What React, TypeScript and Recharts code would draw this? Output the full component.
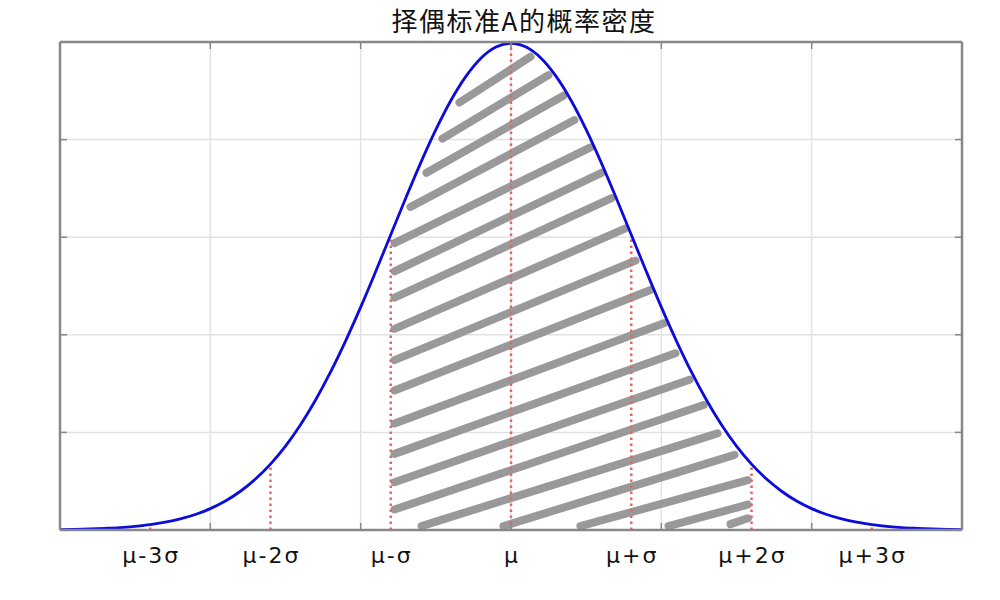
import React from 'react';
import { LineChart, Line, XAxis, YAxis, CartesianGrid } from 'recharts';

const TITLE = '择偶标准A的概率密度';

// density curve
const curveX = [
  -3.0, -2.9, -2.8, -2.7, -2.6, -2.5, -2.4, -2.3, -2.2, -2.1, -2.0, -1.9, -1.8, -1.7, -1.6, -1.5,
  -1.4, -1.3, -1.2, -1.1, -1.0, -0.9, -0.8, -0.7, -0.6, -0.5, -0.4, -0.3, -0.2, -0.1, 0.0,
  0.1, 0.2, 0.3, 0.4, 0.5, 0.6, 0.7, 0.8, 0.9, 1.0, 1.1, 1.2, 1.3, 1.4, 1.5,
  1.6, 1.7, 1.8, 1.9, 2.0, 2.1, 2.2, 2.3, 2.4, 2.5, 2.6, 2.7, 2.8, 2.9, 3.0,
];
const curveY = [
  0.0004, 0.0007, 0.0011, 0.0017, 0.0025, 0.0038, 0.0055, 0.008, 0.0114, 0.0159, 0.0219, 0.0297, 0.0397, 0.0522, 0.0675, 0.086,
  0.1079, 0.1332, 0.1619, 0.1938, 0.2283, 0.2649, 0.3025, 0.3401, 0.3764, 0.4102, 0.4401, 0.4648, 0.4834, 0.4948, 0.4987,
  0.4948, 0.4834, 0.4648, 0.4401, 0.4102, 0.3764, 0.3401, 0.3025, 0.2649, 0.2283, 0.1938, 0.1619, 0.1332, 0.1079, 0.086,
  0.0675, 0.0522, 0.0397, 0.0297, 0.0219, 0.0159, 0.0114, 0.008, 0.0055, 0.0038, 0.0025, 0.0017, 0.0011, 0.0007, 0.0004,
];

const gridXTicks = [-3, -2, -1, 0, 1, 2, 3];
const gridYTicks = [0, 0.1, 0.2, 0.3, 0.4, 0.5];

const sigmaTicks = [-2.4, -1.6, -0.8, 0, 0.8, 1.6, 2.4];
const sigmaLabels = ['μ-3σ', 'μ-2σ', 'μ-σ', 'μ', 'μ+σ', 'μ+2σ', 'μ+3σ'];
const guideTop = [0.0055, 0.0675, 0.3025, 0.4987, 0.3025, 0.0675, 0.0055];

// hatch strokes (start / end points in data units)
const hatchX1 = [-0.343, -0.456, -0.562, -0.669, -0.775, -0.775, -0.775, -0.775, -0.775, -0.775, -0.775, -0.775, -0.775, -0.775, -0.595, -0.05, 0.462, 1.048, 1.46];
const hatchY1 = [0.438, 0.401, 0.366, 0.331, 0.294, 0.265, 0.238, 0.206, 0.174, 0.143, 0.109, 0.078, 0.049, 0.021, 0.004, 0.004, 0.004, 0.004, 0.006];
const hatchX2 = [0.13, 0.249, 0.349, 0.422, 0.529, 0.602, 0.669, 0.762, 0.828, 0.928, 1.021, 1.094, 1.188, 1.281, 1.374, 1.487, 1.575, 1.575, 1.575];
const hatchY2 = [0.485, 0.466, 0.445, 0.42, 0.392, 0.366, 0.34, 0.309, 0.276, 0.246, 0.212, 0.181, 0.154, 0.128, 0.099, 0.077, 0.051, 0.026, 0.012];

const curveData = curveX.map((x, i) => ({ x, y: curveY[i] }));
const guideData = sigmaTicks.map((x, i) => [{ x, y: 0 }, { x, y: guideTop[i] }]);
const hatchData = hatchX1.map((x, i) => [
  { x, y: hatchY1[i] },
  { x: hatchX2[i], y: hatchY2[i] },
]);

const FRAME = '#888888';

const NoLabel = () => <g />;

const SigmaTick = (props: any) => {
  const { x, y, payload } = props;
  const idx = sigmaTicks.indexOf(payload.value);
  return (
    <text
      x={x + 1}
      y={y + 33}
      textAnchor="middle"
      fontFamily="DejaVu Sans"
      fontSize={22}
      letterSpacing={2}
      fill="#111111"
    >
      {sigmaLabels[idx]}
    </text>
  );
};

export default function App() {
  return (
    <div style={{ position: 'absolute', left: 0, top: 0, width: 1000, height: 600, background: '#ffffff' }}>
      <LineChart width={1000} height={600} margin={{ top: 42, right: 38, bottom: 30, left: 60 }}>
        <CartesianGrid
          xAxisId="b"
          yAxisId="l"
          verticalValues={gridXTicks}
          horizontalValues={gridYTicks}
          stroke="#e2e2e2"
          strokeWidth={1.5}
        />
        <XAxis
          xAxisId="b"
          dataKey="x"
          type="number"
          domain={[-3, 3]}
          allowDataOverflow
          ticks={gridXTicks}
          interval={0}
          tick={NoLabel}
          mirror
          height={1}
          tickSize={7}
          axisLine={{ stroke: FRAME, strokeWidth: 2.5 }}
          tickLine={{ stroke: FRAME, strokeWidth: 1.5 }}
        />
        <XAxis
          xAxisId="t"
          orientation="top"
          dataKey="x"
          type="number"
          domain={[-3, 3]}
          allowDataOverflow
          ticks={gridXTicks}
          interval={0}
          tick={NoLabel}
          mirror
          height={1}
          tickSize={7}
          axisLine={{ stroke: FRAME, strokeWidth: 2.5 }}
          tickLine={{ stroke: FRAME, strokeWidth: 1.5 }}
        />
        <XAxis
          xAxisId="lab"
          dataKey="x"
          type="number"
          domain={[-3, 3]}
          allowDataOverflow
          ticks={sigmaTicks}
          interval={0}
          height={40}
          tickSize={0}
          tickMargin={0}
          axisLine={false}
          tickLine={false}
          tick={<SigmaTick />}
        />
        <YAxis
          yAxisId="l"
          type="number"
          domain={[0, 0.5]}
          allowDataOverflow
          ticks={gridYTicks}
          interval={0}
          tick={NoLabel}
          mirror
          width={1}
          tickSize={7}
          axisLine={{ stroke: FRAME, strokeWidth: 2.5 }}
          tickLine={{ stroke: FRAME, strokeWidth: 1.5 }}
        />
        <YAxis
          yAxisId="r"
          orientation="right"
          type="number"
          domain={[0, 0.5]}
          allowDataOverflow
          ticks={gridYTicks}
          interval={0}
          tick={NoLabel}
          mirror
          width={1}
          tickSize={7}
          axisLine={{ stroke: FRAME, strokeWidth: 2.5 }}
          tickLine={{ stroke: FRAME, strokeWidth: 1.5 }}
        />
        {hatchData.map((d, i) => (
          <Line
            key={'h' + i}
            xAxisId="t"
            yAxisId="l"
            data={d}
            dataKey="y"
            type="linear"
            stroke="#999999"
            strokeWidth={8}
            strokeLinecap="round"
            dot={false}
            activeDot={false}
            isAnimationActive={false}
          />
        ))}
        {guideData.map((d, i) => (
          <Line
            key={'g' + i}
            xAxisId="lab"
            yAxisId="r"
            data={d}
            dataKey="y"
            type="linear"
            stroke="#ee6262"
            strokeWidth={2.5}
            strokeDasharray="2.5 3.5"
            dot={false}
            activeDot={false}
            isAnimationActive={false}
          />
        ))}
        <Line
          xAxisId="b"
          yAxisId="l"
          data={curveData}
          dataKey="y"
          type="monotone"
          stroke="#0b0bdc"
          strokeWidth={2.8}
          dot={false}
          activeDot={false}
          isAnimationActive={false}
        />
        <text
          x={524}
          y={31}
          textAnchor="middle"
          fontFamily="Noto Sans CJK SC"
          fontSize={26}
          letterSpacing={1.5}
          fill="#111111"
        >
          {TITLE}
        </text>
      </LineChart>
    </div>
  );
}
